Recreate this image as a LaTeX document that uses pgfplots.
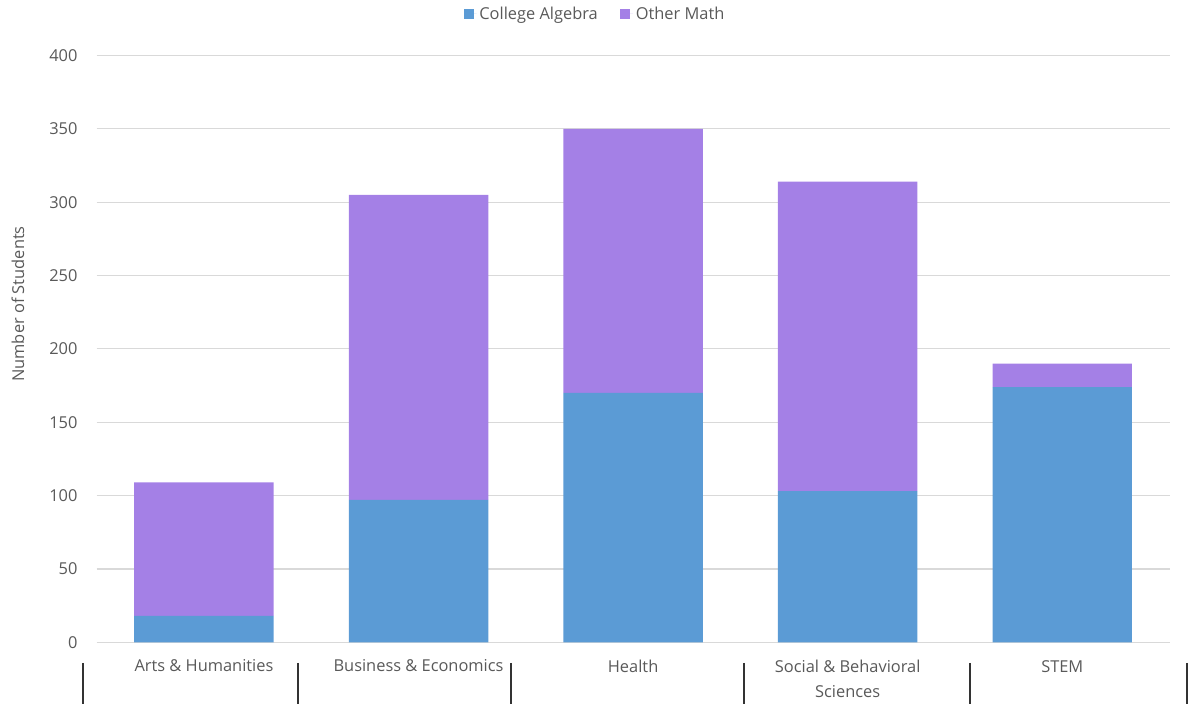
\documentclass[border=0pt]{standalone}
\usepackage{fontspec}
\setmainfont{Open Sans}
\usepackage{pgfplots}
\pgfplotsset{compat=1.18}
\definecolor{cablue}{HTML}{5B9BD5}
\definecolor{ompurple}{HTML}{A480E6}
\definecolor{txtgray}{HTML}{595959}
\definecolor{gridgray}{HTML}{D9D9D9}
\newcommand{\lblfont}{\fontsize{12.3}{18.75}\selectfont}
\begin{document}
\begin{tikzpicture}
\begin{axis}[
  width=804.6pt, height=440.1pt, scale only axis,
  ybar stacked, bar width=0.65,
  xmin=-0.5, xmax=4.5, ymin=0, ymax=400,
  ytick={0,50,...,400},
  xtick=data,
  xticklabels={Arts \& Humanities, Business \& Economics, Health, {Social \& Behavioral\\Sciences}, \vphantom{l}STEM},
  axis line style={draw=none},
  ymajorgrids, grid style={gridgray, line width=0.9pt},
  tick style={draw=none}, major tick length=0pt,
  /pgf/number format/assume math mode=true,
  ticklabel style={font=\lblfont, text=txtgray},
  yticklabel style={inner sep=0pt, anchor=east, xshift=-14.25pt},
  xticklabel style={inner sep=0pt, anchor=north, align=center, yshift=-13pt},
  ylabel={Number of Students},
  ylabel style={at={(axis description cs:-0.0734,0.5765)}, anchor=center, font=\lblfont, text=txtgray},
  legend style={at={(0.465,1.0707)}, anchor=center, legend columns=2, draw=none, fill=none,
    font=\lblfont, text=txtgray, inner sep=0pt,
    /tikz/every even column/.append style={column sep=15pt}},
  legend image code/.code={\fill[#1] (0pt,-3.75pt) rectangle (7.5pt,3.75pt); \path (0pt,0pt) -- (9.5pt,0pt);},
  clip=false,
]
\addplot[fill=cablue, draw=none] coordinates {(0,18) (1,97) (2,170) (3,103) (4,174)};
\addplot[fill=ompurple, draw=none] coordinates {(0,91) (1,208) (2,180) (3,211) (4,16)};
\legend{College Algebra, Other Math}
\pgfplotsinvokeforeach{-0.565,0.437,1.431,2.518,3.571,4.583}{
  \draw[line width=1.3pt, black!80] (axis cs:#1,0) ++(0pt,-15.5pt) -- ++(0pt,-30.8pt);
}
\coordinate (bl) at (rel axis cs:0,0);
\coordinate (tr) at (rel axis cs:1,1);
\end{axis}
\path ([shift={(-72.5pt,-46.3pt)}]bl) rectangle ([shift={(17.6pt,41.6pt)}]tr);
\end{tikzpicture}
\end{document}
